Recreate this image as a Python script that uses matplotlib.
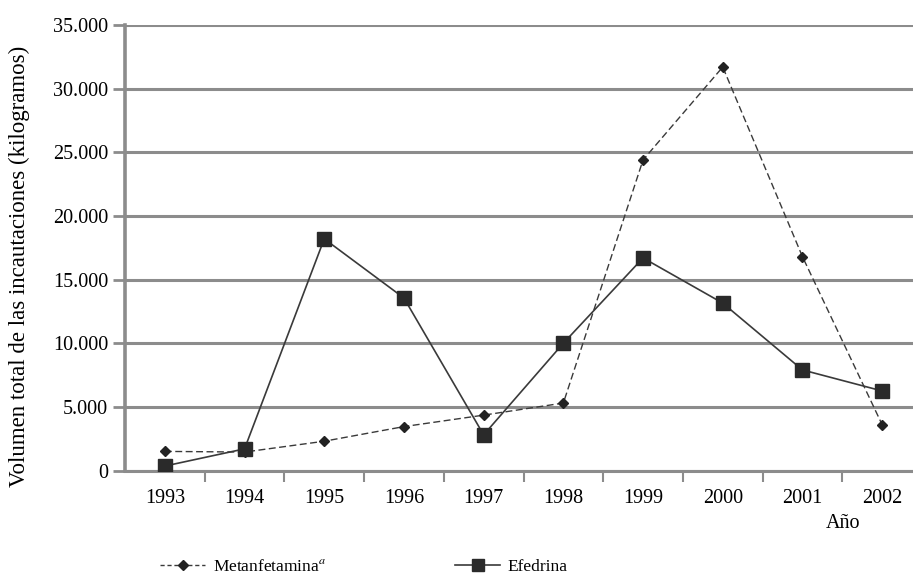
import matplotlib
matplotlib.use("Agg")
import matplotlib.pyplot as plt
from matplotlib.lines import Line2D

plt.rcParams['font.family'] = ['Liberation Serif', 'DejaVu Serif']
plt.rcParams['mathtext.fontset'] = 'stix'

years = [1993, 1994, 1995, 1996, 1997, 1998, 1999, 2000, 2001, 2002]
metanfetamina = [1500, 1450, 2300, 3450, 4350, 5300, 24400, 31700, 16800, 3600]
efedrina = [350, 1700, 18200, 13550, 2800, 10000, 16700, 13150, 7900, 6250]
yticks = [0, 5000, 10000, 15000, 20000, 25000, 30000, 35000]
ytick_labels = ["0", "5.000", "10.000", "15.000", "20.000", "25.000", "30.000", "35.000"]

W, H = 913, 588
fig = plt.figure(figsize=(W / 100, H / 100), dpi=100)
left, right, top, bottom = 125, 922, 25, 470.5
ax = fig.add_axes([left / W, 1 - bottom / H, (right - left) / W, (bottom - top) / H])

line_col = '#3a3a3a'
grid_col = '#8c8c8c'

ax.plot(years, metanfetamina, color=line_col, lw=1.0, dashes=(5, 2.5),
        marker='D', markersize=5.5, markerfacecolor='#222222', markeredgecolor='#222222',
        zorder=3)
ax.plot(years, efedrina, color=line_col, lw=1.2,
        marker='s', markersize=9.5, markerfacecolor='#2a2a2a', markeredgecolor='#2a2a2a',
        zorder=4)

ax.set_xlim(1992.5, 2002.5)
ax.set_ylim(0, 35000)
ax.set_yticks(yticks)
ax.set_yticklabels(ytick_labels, fontsize=14.5)
ax.set_xticks(years)
ax.set_xticklabels([str(y) for y in years], fontsize=14.5)
ax.set_xticks([y + 0.5 for y in years[:-1]], minor=True)
ax.tick_params(axis='x', which='major', length=0, pad=13)
ax.tick_params(axis='x', which='minor', length=8, width=1.5, color=grid_col, direction='out')
ax.tick_params(axis='y', length=9, width=2, color=grid_col, pad=3)

ax.yaxis.grid(True, color=grid_col, lw=2.2)
ax.set_axisbelow(True)
for s in ['top', 'right']:
    ax.spines[s].set_visible(False)
ax.spines['left'].set_color(grid_col)
ax.spines['left'].set_linewidth(2.6)
ax.spines['bottom'].set_color(grid_col)
ax.spines['bottom'].set_linewidth(2.2)

fig.text(19 / W, 1 - 266 / H, "Volumen total de las incautaciones (kilogramos)",
         rotation=90, ha='center', va='center', fontsize=16.5)
fig.text(843 / W, 1 - 523 / H, "Año", ha='center', va='center', fontsize=14.5)

h1 = Line2D([], [], color=line_col, lw=1.0, dashes=(3, 2), marker='D', markersize=5,
            markerfacecolor='#222222', markeredgecolor='#222222')
h2 = Line2D([], [], color=line_col, lw=1.2, marker='s', markersize=8,
            markerfacecolor='#2a2a2a', markeredgecolor='#2a2a2a')
for h, lab, x in [(h1, r"Metanfetamina$^{\mathit{a}}$", 160), (h2, "Efedrina", 455)]:
    fig.legend([h], [lab], loc='center left', bbox_to_anchor=(x / W, 1 - 567 / H),
               frameon=False, fontsize=12.5, handlelength=2.6, handletextpad=0.45,
               borderpad=0, borderaxespad=0)

fig.savefig("out.png", dpi=100)
